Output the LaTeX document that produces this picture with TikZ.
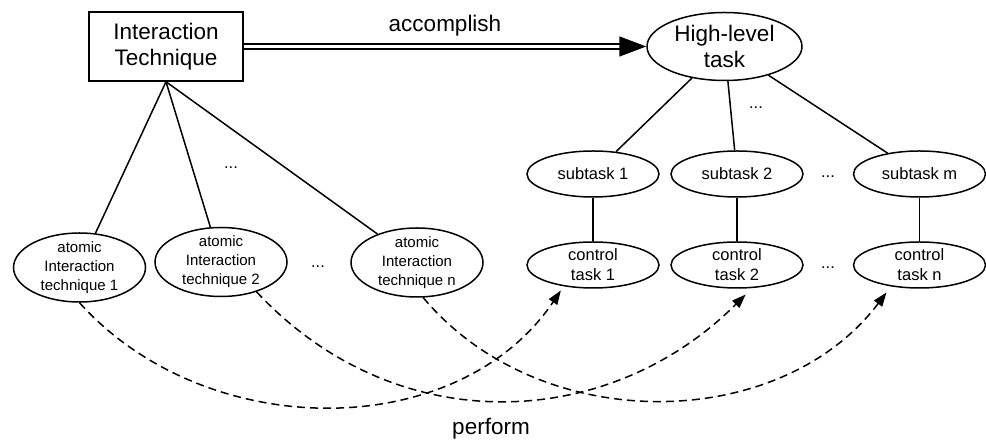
\documentclass[tikz,border=0pt]{standalone}
\usepackage{fontspec}
\setmainfont{Liberation Sans}
\usetikzlibrary{shapes.geometric,arrows.meta}

\begin{document}
\begin{tikzpicture}[x=1pt, y=1pt, line width=1.5pt,
  big/.style={font=\fontsize{22.5}{26}\selectfont},
  mid/.style={font=\fontsize{16.5}{20}\selectfont},
  small/.style={font=\fontsize{15}{19}\selectfont},
  task/.style={ellipse, draw, mid, align=center, inner sep=0pt, inner ysep=-10pt, minimum width=132pt, minimum height=46pt},
  atomic/.style={ellipse, draw, small, align=center, inner sep=0pt, inner ysep=-12pt, minimum width=132pt, minimum height=69pt},
  dots/.style={mid, inner sep=0pt},
  perform-arrow/.style={dash pattern=on 8pt off 5pt, -{Triangle[length=14pt, width=10pt]}}]
\useasboundingbox (0,0) rectangle (986,441);

\path (166,394.5) node[rectangle, draw, big, align=center, minimum width=154pt, minimum height=69pt](tech) {Interaction\\Technique};
\path (724.5,394.5) node[ellipse, draw, big, align=center, inner sep=0pt, minimum width=155pt, minimum height=68pt](high-task) {High-level\\task};

\path (79.5,173.5) node[atomic](atomic-1) {atomic\\Interaction\\technique 1};
\path (221,179) node[atomic](atomic-2) {atomic\\Interaction\\technique 2};
\path (417,178.5) node[atomic](atomic-n) {atomic\\Interaction\\technique n};

\path (593,267) node[task](subtask-1) {subtask 1};
\path (737,267) node[task](subtask-2) {subtask 2};
\path (919.5,267) node[task](subtask-m) {subtask m};

\path (593,176) node[task](control-1) {control\\task 1};
\path (737,176) node[task](control-2) {control\\task 2};
\path (919.5,176) node[task](control-n) {control\\task n};

\path (231,273) node[dots](dots-tech) {...};
\path (318,174) node[dots](dots-atomic) {...};
\path (756,333) node[dots](dots-high) {...};
\path (828,264) node[dots](dots-subtask) {...};
\path (828,173) node[dots](dots-control) {...};

\draw[double, double distance=3.5pt, -{Triangle[length=27pt, width=20pt]}] (tech) -- (high-task) node[big, midway, above=6pt] {accomplish};

\draw (tech.south) -- (atomic-1);
\draw (tech.south) -- (atomic-2);
\draw (tech.south) -- (atomic-n);

\draw (high-task) -- (subtask-1);
\draw (high-task) -- (subtask-2);
\draw (high-task) -- (subtask-m);

\draw (subtask-1) -- (control-1);
\draw (subtask-2) -- (control-2);
\draw (subtask-m) -- (control-n);

\draw[perform-arrow, shorten >=5pt] (atomic-1.south) to [out=-48, in=-124] (control-1.-144);

\draw[perform-arrow, shorten >=9pt] (atomic-2.-40) to [out=-47, in=-135, looseness=1.05] (control-2.-57);

\draw[perform-arrow, shorten >=7.5pt] (atomic-n.-80) to [out=-50, in=-127] (control-n.-143);

\path (491,12) node[big](perform) {perform};

\end{tikzpicture}
\end{document}
